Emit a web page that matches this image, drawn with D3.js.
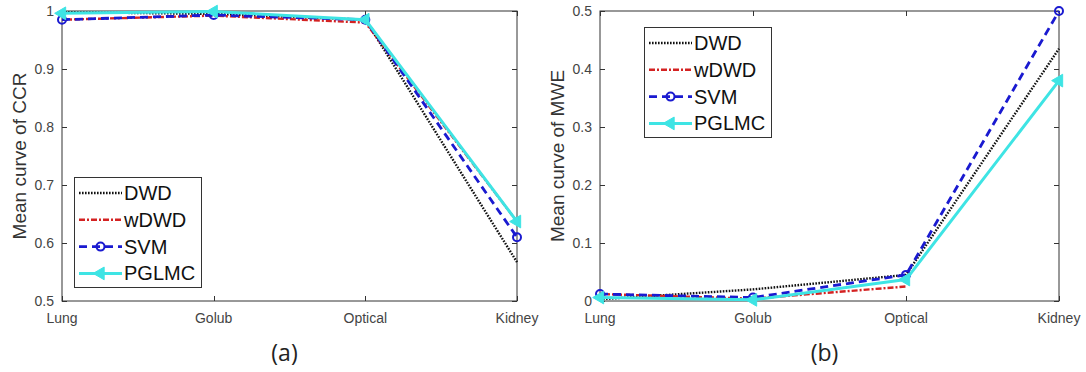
<!DOCTYPE html>
<html>
<head>
<meta charset="utf-8">
<script src="https://cdn.jsdelivr.net/npm/d3@7/dist/d3.min.js"></script>
<style>
  html, body { margin: 0; padding: 0; background: #fff; }
  svg { display: block; }
  .sans { font-family: "Liberation Sans", Arial, Helvetica, sans-serif; }
  .cap { font-family: "Open Sans", "Noto Sans", sans-serif; }
</style>
</head>
<body>
<svg id="chart" width="1086" height="372"></svg>
<script>
// Datasets along the x axis
const datasets = ["Lung", "Golub", "Optical", "Kidney"];
const methods = ["DWD", "wDWD", "SVM", "PGLMC"];

// Panel (a): mean CCR per dataset
const ccrDWD   = [0.998, 0.995, 0.985, 0.567];
const ccrWDWD  = [0.985, 0.992, 0.980, 0.637];
const ccrSVM   = [0.985, 0.993, 0.985, 0.610];
const ccrPGLMC = [0.996, 0.999, 0.985, 0.637];
const ccrTicks = [0.5, 0.6, 0.7, 0.8, 0.9, 1];
const ccrTickLabels = ["0.5", "0.6", "0.7", "0.8", "0.9", "1"];

// Panel (b): mean MWE per dataset (wDWD has no Kidney value)
const mweDWD   = [0.003, 0.020, 0.045, 0.435];
const mweWDWD  = [0.012, 0.004, 0.025, null];
const mweSVM   = [0.012, 0.006, 0.045, 0.500];
const mwePGLMC = [0.006, 0.002, 0.037, 0.380];
const mweTicks = [0, 0.1, 0.2, 0.3, 0.4, 0.5];
const mweTickLabels = ["0", "0.1", "0.2", "0.3", "0.4", "0.5"];

const styles = {
  DWD:   { color: "#111111", width: 2.4, dash: "1.6,1.4" },
  wDWD:  { color: "#d42222", width: 2.4, dash: "6,2,2,2" },
  SVM:   { color: "#1a1ad0", width: 2.8, dash: "8,5" },
  PGLMC: { color: "#3ee4e4", width: 3,   dash: null }
};

const svg = d3.select("#chart");

function panel(cfg) {
  const x = d3.scalePoint().domain(datasets).range([cfg.x0, cfg.x1]);
  const y = d3.scaleLinear().domain(cfg.yDomain).range([cfg.y1, cfg.y0]);
  const g = svg.append("g");

  // Axes box
  g.append("rect")
    .attr("x", cfg.x0).attr("y", cfg.y0)
    .attr("width", cfg.x1 - cfg.x0).attr("height", cfg.y1 - cfg.y0)
    .attr("fill", "none").attr("stroke", "#333").attr("stroke-width", 1);

  // Inward ticks on all four sides
  const tl = 5;
  cfg.ticks.forEach(t => {
    const yy = Math.round(y(t)) + 0.5;
    g.append("line").attr("x1", cfg.x0).attr("x2", cfg.x0 + tl).attr("y1", yy).attr("y2", yy).attr("stroke", "#333");
    g.append("line").attr("x1", cfg.x1 - tl).attr("x2", cfg.x1).attr("y1", yy).attr("y2", yy).attr("stroke", "#333");
  });
  datasets.forEach(d => {
    const xx = Math.round(x(d)) + 0.5;
    g.append("line").attr("x1", xx).attr("x2", xx).attr("y1", cfg.y1).attr("y2", cfg.y1 - tl).attr("stroke", "#333");
    g.append("line").attr("x1", xx).attr("x2", xx).attr("y1", cfg.y0).attr("y2", cfg.y0 + tl).attr("stroke", "#333");
  });

  // Tick labels
  g.selectAll(".ylab").data(cfg.ticks).enter().append("text")
    .attr("class", "sans")
    .attr("x", cfg.x0 - 8).attr("y", t => y(t) + 5)
    .attr("text-anchor", "end")
    .attr("font-size", 14).attr("fill", "#444")
    .text((t, i) => cfg.tickLabels[i]);
  g.selectAll(".xlab").data(datasets).enter().append("text")
    .attr("class", "sans")
    .attr("x", d => x(d)).attr("y", cfg.y1 + 22)
    .attr("text-anchor", "middle")
    .attr("font-size", 14).attr("fill", "#444")
    .text(d => d);

  // Y axis title
  g.append("text")
    .attr("class", "sans")
    .attr("transform", `translate(${cfg.x0 - 36},${(cfg.y0 + cfg.y1) / 2}) rotate(-90)`)
    .attr("text-anchor", "middle")
    .attr("font-size", 19).attr("fill", "#333")
    .text(cfg.yTitle);

  // Caption
  g.append("text")
    .attr("class", "cap")
    .attr("x", (cfg.x0 + cfg.x1) / 2 - 5).attr("y", 361)
    .attr("text-anchor", "middle")
    .attr("font-size", 23).attr("fill", "#222")
    .text(cfg.caption);

  // Series
  const line = d3.line()
    .defined(v => v != null)
    .x((v, i) => x(datasets[i])).y(v => y(v));
  methods.forEach(m => {
    const s = styles[m];
    const vals = cfg.series[m];
    const pts = vals.map((v, i) => [i, v]).filter(p => p[1] != null);
    g.append("path").datum(vals)
      .attr("d", line)
      .attr("fill", "none")
      .attr("stroke", s.color)
      .attr("stroke-width", s.width)
      .attr("stroke-dasharray", s.dash)
      .attr("stroke-linejoin", "round");
    if (m === "SVM") {
      g.selectAll(null).data(pts).enter().append("circle")
        .attr("cx", p => x(datasets[p[0]])).attr("cy", p => y(p[1]))
        .attr("r", 4).attr("fill", "none")
        .attr("stroke", s.color).attr("stroke-width", 2);
    }
    if (m === "PGLMC") {
      const tri = d3.symbol().type(d3.symbolTriangle).size(70);
      g.selectAll(null).data(pts).enter().append("path")
        .attr("d", tri)
        .attr("transform", p => `translate(${x(datasets[p[0]])},${y(p[1])}) rotate(-90)`)
        .attr("fill", s.color).attr("stroke", s.color).attr("stroke-width", 1);
    }
  });

  // Legend
  const lg = g.append("g").attr("transform", `translate(${cfg.legend[0]},${cfg.legend[1]})`);
  lg.append("rect").attr("x", 0.5).attr("y", 0.5).attr("width", 127).attr("height", 110)
    .attr("fill", "#fff").attr("stroke", "#333").attr("stroke-width", 1);
  methods.forEach((m, i) => {
    const s = styles[m];
    const ry = 16 + i * 26.8;
    lg.append("line").attr("x1", 5).attr("x2", 48).attr("y1", ry).attr("y2", ry)
      .attr("stroke", s.color).attr("stroke-width", s.width).attr("stroke-dasharray", s.dash);
    if (m === "SVM") {
      lg.append("circle").attr("cx", 26.5).attr("cy", ry).attr("r", 4)
        .attr("fill", "none").attr("stroke", s.color).attr("stroke-width", 2);
    }
    if (m === "PGLMC") {
      lg.append("path").attr("d", d3.symbol().type(d3.symbolTriangle).size(70))
        .attr("transform", `translate(26.5,${ry}) rotate(-90)`)
        .attr("fill", s.color).attr("stroke", s.color);
    }
    lg.append("text").attr("class", "sans").attr("x", 50).attr("y", ry + 7)
      .attr("font-size", 20).attr("fill", "#111")
      .text(m);
  });
}

panel({
  x0: 62, x1: 517, y0: 11, y1: 301,
  yDomain: [0.5, 1], ticks: ccrTicks, tickLabels: ccrTickLabels,
  yTitle: "Mean curve of CCR", caption: "(a)",
  series: { DWD: ccrDWD, wDWD: ccrWDWD, SVM: ccrSVM, PGLMC: ccrPGLMC },
  legend: [74, 177]
});

panel({
  x0: 600, x1: 1059, y0: 11, y1: 301,
  yDomain: [0, 0.5], ticks: mweTicks, tickLabels: mweTickLabels,
  yTitle: "Mean curve of MWE", caption: "(b)",
  series: { DWD: mweDWD, wDWD: mweWDWD, SVM: mweSVM, PGLMC: mwePGLMC },
  legend: [644, 27]
});
</script>
</body>
</html>
